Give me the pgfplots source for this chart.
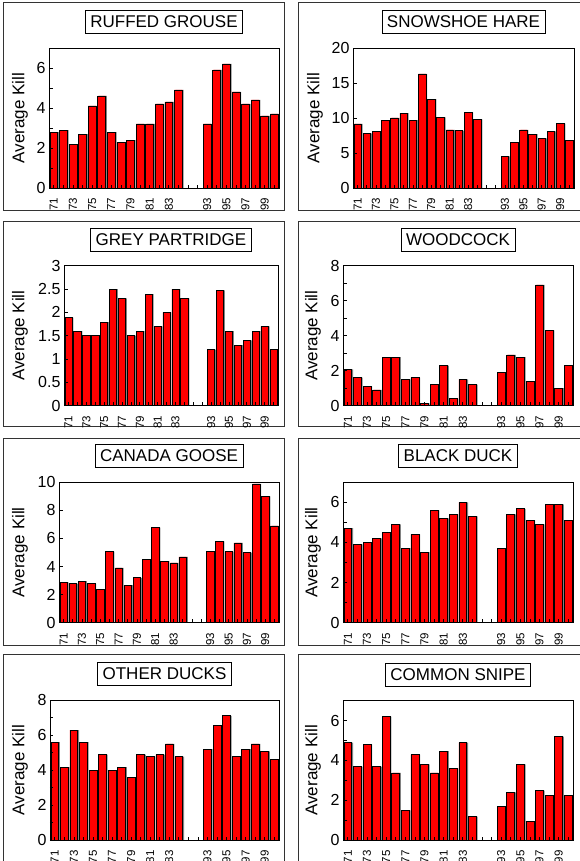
\documentclass[border=0pt]{standalone}
\usepackage{pgfplots}
\pgfplotsset{compat=1.18}
\usepackage{fontspec}
\setmainfont{Liberation Sans}
\definecolor{barred}{RGB}{255,0,0}
\definecolor{shadow}{RGB}{130,130,130}
\pgfplotsset{
  kill/.style={
    scale only axis,
    anchor=south west,
    xmin=-0.5, xmax=23.5,
    ymin=0,
    xtick={0,...,23},
    xticklabels={71,{},73,{},75,{},77,{},79,{},81,{},83,{},{},{},93,{},95,{},97,{},99,{}},
    x tick label style={rotate=90, anchor=east, font=\fontsize{11.5}{12}\selectfont, inner xsep=2pt},
    xticklabel shift=8pt,
    y tick label style={font=\fontsize{16}{18}\selectfont},
    /pgf/number format/assume math mode=true,
    tick align=inside,
    tick pos=left,
    major tick length=3.5pt, minor tick length=3.5pt,
    tick style={black, line width=0.7pt},
    axis on top,
    axis line style={line width=0.8pt},
    ylabel={Average Kill},
    ylabel style={font=\fontsize{17}{19}\selectfont, anchor=center},
    title style={at={(0.5,1)}, anchor=south, yshift=8.3pt, draw, fill=white, inner xsep=5pt, inner ysep=5.5pt, font=\fontsize{17}{19}\selectfont, line width=0.8pt},
    bar width=0.82,
  },
  shd/.style={ybar, bar shift=1.3pt, fill=shadow, draw=none},
  redbar/.style={ybar, bar shift=0pt, fill=barred, draw=black, line width=0.6pt},
}
\begin{document}
\begin{tikzpicture}
% panel frames
\draw[line width=0.8pt, black!80] (3.5pt,-2.5pt) rectangle (284pt,-210pt);
\draw[line width=0.8pt, black!80] (298pt,-2.5pt) rectangle (582pt,-210pt);
\draw[line width=0.8pt, black!80] (3.5pt,-221pt) rectangle (284pt,-426.7pt);
\draw[line width=0.8pt, black!80] (298pt,-221pt) rectangle (582pt,-426.7pt);
\draw[line width=0.8pt, black!80] (3.5pt,-438pt) rectangle (284pt,-645.5pt);
\draw[line width=0.8pt, black!80] (298pt,-438pt) rectangle (582pt,-645.5pt);
\draw[line width=0.8pt, black!80] (3.5pt,-654.3pt) rectangle (284pt,-880pt);
\draw[line width=0.8pt, black!80] (298pt,-654.3pt) rectangle (582pt,-880pt);

% 1 Ruffed grouse
\begin{axis}[kill, at={(49pt,-188pt)}, width=230pt, height=140pt, ymax=7,
  ytick={0,2,4,6}, minor ytick={1,3,5,7}, title={RUFFED GROUSE}, ylabel style={at={(axis description cs:-0.126,0.5)}}]
\addplot[shd] coordinates {(0,2.8)(1,2.9)(2,2.2)(3,2.7)(4,4.1)(5,4.6)(6,2.8)(7,2.3)(8,2.4)(9,3.2)(10,3.2)(11,4.2)(12,4.3)(13,4.9)(16,3.2)(17,5.9)(18,6.2)(19,4.8)(20,4.2)(21,4.4)(22,3.6)(23,3.7)};
\addplot[redbar] coordinates {(0,2.8)(1,2.9)(2,2.2)(3,2.7)(4,4.1)(5,4.6)(6,2.8)(7,2.3)(8,2.4)(9,3.2)(10,3.2)(11,4.2)(12,4.3)(13,4.9)(16,3.2)(17,5.9)(18,6.2)(19,4.8)(20,4.2)(21,4.4)(22,3.6)(23,3.7)};
\end{axis}

% 2 Snowshoe hare
\begin{axis}[kill, at={(353pt,-188pt)}, width=221pt, height=140pt, ymax=20,
  ytick={0,5,10,15,20}, title={SNOWSHOE HARE}, ylabel style={at={(axis description cs:-0.172,0.5)}}]
\addplot[shd] coordinates {(0,9.15)(1,7.8)(2,8.1)(3,9.7)(4,10.0)(5,10.7)(6,9.7)(7,16.3)(8,12.7)(9,10.1)(10,8.3)(11,8.2)(12,10.8)(13,9.8)(16,4.5)(17,6.5)(18,8.3)(19,7.7)(20,7.1)(21,8.1)(22,9.2)(23,6.8)};
\addplot[redbar] coordinates {(0,9.15)(1,7.8)(2,8.1)(3,9.7)(4,10.0)(5,10.7)(6,9.7)(7,16.3)(8,12.7)(9,10.1)(10,8.3)(11,8.2)(12,10.8)(13,9.8)(16,4.5)(17,6.5)(18,8.3)(19,7.7)(20,7.1)(21,8.1)(22,9.2)(23,6.8)};
\end{axis}

% 3 Grey partridge
\begin{axis}[kill, at={(64pt,-405.7pt)}, width=214pt, height=140pt, ymax=3,
  ytick={0,0.5,1,1.5,2,2.5,3}, title={GREY PARTRIDGE}, ylabel style={at={(axis description cs:-0.206,0.5)}}]
\addplot[shd] coordinates {(0,1.89)(1,1.6)(2,1.5)(3,1.5)(4,1.79)(5,2.5)(6,2.3)(7,1.5)(8,1.6)(9,2.39)(10,1.7)(11,2.0)(12,2.5)(13,2.3)(16,1.2)(17,2.47)(18,1.6)(19,1.3)(20,1.4)(21,1.6)(22,1.7)(23,1.2)};
\addplot[redbar] coordinates {(0,1.89)(1,1.6)(2,1.5)(3,1.5)(4,1.79)(5,2.5)(6,2.3)(7,1.5)(8,1.6)(9,2.39)(10,1.7)(11,2.0)(12,2.5)(13,2.3)(16,1.2)(17,2.47)(18,1.6)(19,1.3)(20,1.4)(21,1.6)(22,1.7)(23,1.2)};
\end{axis}

% 4 Woodcock
\begin{axis}[kill, at={(343pt,-405.7pt)}, width=230pt, height=140pt, ymax=8,
  ytick={0,2,4,6,8}, minor ytick={1,3,5,7}, title={WOODCOCK}, ylabel style={at={(axis description cs:-0.130,0.5)}}]
\addplot[shd] coordinates {(0,2.08)(1,1.6)(2,1.1)(3,0.9)(4,2.78)(5,2.78)(6,1.5)(7,1.6)(8,0.13)(9,1.2)(10,2.29)(11,0.4)(12,1.5)(13,1.2)(16,1.9)(17,2.9)(18,2.78)(19,1.39)(20,6.9)(21,4.3)(22,1.0)(23,2.29)};
\addplot[redbar] coordinates {(0,2.08)(1,1.6)(2,1.1)(3,0.9)(4,2.78)(5,2.78)(6,1.5)(7,1.6)(8,0.13)(9,1.2)(10,2.29)(11,0.4)(12,1.5)(13,1.2)(16,1.9)(17,2.9)(18,2.78)(19,1.39)(20,6.9)(21,4.3)(22,1.0)(23,2.29)};
\end{axis}

% 5 Canada goose
\begin{axis}[kill, at={(59pt,-622.7pt)}, width=220pt, height=140.4pt, ymax=10,
  ytick={0,2,4,6,8,10}, title={CANADA GOOSE}, ylabel style={at={(axis description cs:-0.177,0.5)}}]
\addplot[shd] coordinates {(0,2.87)(1,2.78)(2,2.97)(3,2.78)(4,2.37)(5,5.07)(6,3.9)(7,2.68)(8,3.2)(9,4.5)(10,6.77)(11,4.38)(12,4.26)(13,4.69)(16,5.07)(17,5.79)(18,5.07)(19,5.69)(20,5.0)(21,9.88)(22,9.0)(23,6.89)};
\addplot[redbar] coordinates {(0,2.87)(1,2.78)(2,2.97)(3,2.78)(4,2.37)(5,5.07)(6,3.9)(7,2.68)(8,3.2)(9,4.5)(10,6.77)(11,4.38)(12,4.26)(13,4.69)(16,5.07)(17,5.79)(18,5.07)(19,5.69)(20,5.0)(21,9.88)(22,9.0)(23,6.89)};
\end{axis}

% 6 Black duck
\begin{axis}[kill, at={(343pt,-622.7pt)}, width=230pt, height=140.4pt, ymax=7,
  ytick={0,2,4,6}, minor ytick={1,3,5,7}, title={BLACK DUCK}, ylabel style={at={(axis description cs:-0.130,0.5)}}]
\addplot[shd] coordinates {(0,4.72)(1,3.9)(2,4.0)(3,4.2)(4,4.5)(5,4.9)(6,3.72)(7,4.4)(8,3.52)(9,5.6)(10,5.2)(11,5.4)(12,6.0)(13,5.3)(16,3.72)(17,5.4)(18,5.68)(19,5.1)(20,4.9)(21,5.9)(22,5.9)(23,5.1)};
\addplot[redbar] coordinates {(0,4.72)(1,3.9)(2,4.0)(3,4.2)(4,4.5)(5,4.9)(6,3.72)(7,4.4)(8,3.52)(9,5.6)(10,5.2)(11,5.4)(12,6.0)(13,5.3)(16,3.72)(17,5.4)(18,5.68)(19,5.1)(20,4.9)(21,5.9)(22,5.9)(23,5.1)};
\end{axis}

% 7 Other ducks
\begin{axis}[kill, at={(50pt,-840pt)}, width=229pt, height=140pt, ymax=8,
  ytick={0,2,4,6,8}, minor ytick={1,3,5,7}, title={OTHER DUCKS}, ylabel style={at={(axis description cs:-0.131,0.5)}}]
\addplot[shd] coordinates {(0,5.59)(1,4.17)(2,6.28)(3,5.59)(4,4.0)(5,4.88)(6,4.0)(7,4.17)(8,3.58)(9,4.88)(10,4.77)(11,4.88)(12,5.49)(13,4.77)(16,5.19)(17,6.56)(18,7.1)(19,4.77)(20,5.19)(21,5.49)(22,5.07)(23,4.59)};
\addplot[redbar] coordinates {(0,5.59)(1,4.17)(2,6.28)(3,5.59)(4,4.0)(5,4.88)(6,4.0)(7,4.17)(8,3.58)(9,4.88)(10,4.77)(11,4.88)(12,5.49)(13,4.77)(16,5.19)(17,6.56)(18,7.1)(19,4.77)(20,5.19)(21,5.49)(22,5.07)(23,4.59)};
\end{axis}

% 8 Common snipe
\begin{axis}[kill, at={(343pt,-840pt)}, width=230pt, height=139.3pt, ymax=7,
  ytick={0,2,4,6}, minor ytick={1,3,5,7}, title={COMMON SNIPE}, ylabel style={at={(axis description cs:-0.130,0.5)}}]
\addplot[shd] coordinates {(0,4.89)(1,3.69)(2,4.81)(3,3.69)(4,6.2)(5,3.37)(6,1.49)(7,4.29)(8,3.8)(9,3.37)(10,4.47)(11,3.6)(12,4.89)(13,1.17)(16,1.68)(17,2.4)(18,3.8)(19,0.95)(20,2.48)(21,2.24)(22,5.19)(23,2.24)};
\addplot[redbar] coordinates {(0,4.89)(1,3.69)(2,4.81)(3,3.69)(4,6.2)(5,3.37)(6,1.49)(7,4.29)(8,3.8)(9,3.37)(10,4.47)(11,3.6)(12,4.89)(13,1.17)(16,1.68)(17,2.4)(18,3.8)(19,0.95)(20,2.48)(21,2.24)(22,5.19)(23,2.24)};
\end{axis}

\pgfresetboundingbox
\path[use as bounding box] (0pt,0pt) rectangle (579pt,-861pt);
\end{tikzpicture}
\end{document}
